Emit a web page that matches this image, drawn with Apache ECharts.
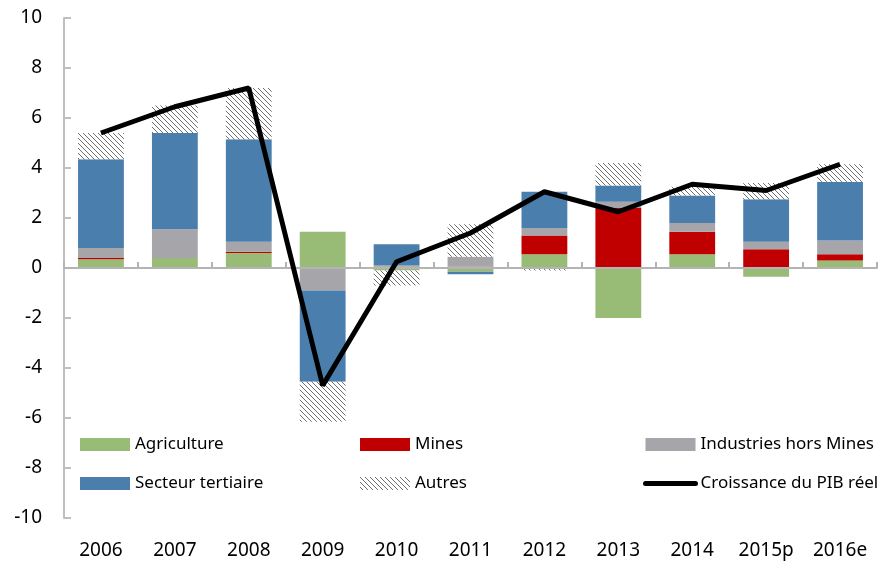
<!DOCTYPE html>
<html>
<head>
<meta charset="utf-8">
<script src="https://cdn.jsdelivr.net/npm/echarts@6/dist/echarts.min.js"></script>
<style>
html,body{margin:0;padding:0;background:#fff;}
#main{width:883px;height:563px;}
</style>
</head>
<body>
<div id="main"></div>
<script>
var years = ["2006","2007","2008","2009","2010","2011","2012","2013","2014","2015p","2016e"];
var agriculture = [0.35, 0.4, 0.6, 1.45, -0.1, -0.15, 0.55, -2.0, 0.55, -0.35, 0.3];
var mines       = [0.05, 0.0, 0.05, 0.0, 0.05, 0.05, 0.75, 2.4, 0.9, 0.75, 0.25];
var industries  = [0.4, 1.15, 0.4, -0.9, 0.05, 0.4, 0.3, 0.25, 0.35, 0.3, 0.55];
var tertiaire   = [3.55, 3.85, 4.1, -3.65, 0.85, -0.1, 1.45, 0.65, 1.1, 1.7, 2.35];
var autres      = [1.05, 1.1, 2.05, -1.6, -0.6, 1.3, -0.1, 0.9, 0.35, 0.65, 0.7];
var pib         = [5.4, 6.45, 7.2, -4.7, 0.25, 1.4, 3.05, 2.25, 3.35, 3.1, 4.15];

// motif hachuré pour "Autres"
var hatch = document.createElement("canvas");
hatch.width = 5;
hatch.height = 5;
var ctx = hatch.getContext("2d");
ctx.fillStyle = "#ffffff";
ctx.fillRect(0, 0, 5, 5);
ctx.fillStyle = "#6e6e6e";
for (var i = 0; i < 5; i++) {
    ctx.fillRect(i, i, 1, 1);
}

var font = "Noto Sans";

function barSerie(name, data, color){
    return {
        name: name,
        type: "bar",
        stack: "total",
        barWidth: "62%",
        data: data,
        itemStyle: { color: color }
    };
}

var legendBase = {
    orient: "vertical",
    top: 436,
    padding: 0,
    itemWidth: 50,
    itemHeight: 13,
    itemGap: 22,
    selectedMode: false,
    textStyle: { fontFamily: font, fontSize: 17, color: "#000" }
};

var option = {
    animation: false,
    grid: { left: 64, right: 6, top: 18, bottom: 45 },
    legend: [
        Object.assign({}, legendBase, { left: 80, data: [
            { name: "Agriculture", icon: "rect" },
            { name: "Secteur tertiaire", icon: "rect" }
        ] }),
        Object.assign({}, legendBase, { left: 360, data: [
            { name: "Mines", icon: "rect" },
            { name: "Autres", icon: "rect" }
        ] }),
        Object.assign({}, legendBase, {
            left: 643,
            data: [
                { name: "Industries hors Mines", icon: "rect" },
                { name: "Croissance du PIB réel", itemStyle: { opacity: 0 } }
            ],
            lineStyle: { width: 5, cap: "round", color: "#000" }
        })
    ],
    xAxis: {
        type: "category",
        data: years,
        z: 5,
        axisLine: { show: true, onZero: true, lineStyle: { color: "#b4b4b4", width: 2 } },
        axisTick: { show: true, inside: true, length: 6, lineStyle: { color: "#b4b4b4", width: 2 } },
        axisLabel: { interval: 0, fontFamily: font, fontSize: 19, color: "#000", margin: 23 }
    },
    yAxis: {
        type: "value",
        min: -10,
        max: 10,
        interval: 2,
        axisLine: { show: true, lineStyle: { color: "#bfbfbf", width: 2 } },
        axisTick: { show: true, inside: true, length: 7, lineStyle: { color: "#bfbfbf", width: 2 } },
        splitLine: { show: false },
        axisLabel: { fontFamily: font, fontSize: 19, color: "#000", margin: 22 }
    },
    series: [
        barSerie("Agriculture", agriculture, "#98bb76"),
        barSerie("Mines", mines, "#c00000"),
        barSerie("Industries hors Mines", industries, "#a6a6aa"),
        barSerie("Secteur tertiaire", tertiaire, "#4a7fad"),
        barSerie("Autres", autres, { image: hatch, repeat: "repeat" }),
        {
            name: "Croissance du PIB réel",
            type: "line",
            data: pib,
            symbol: "none",
            z: 10,
            lineStyle: { color: "#000", width: 5 },
            itemStyle: { color: "#000" }
        }
    ]
};

var eChart = echarts.init(document.getElementById("main"));
eChart.setOption(option);
</script>
</body>
</html>
